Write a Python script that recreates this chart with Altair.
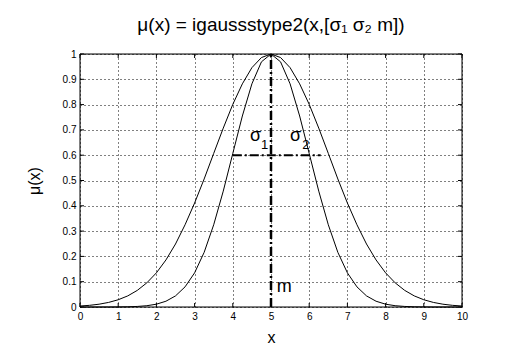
import altair as alt
import pandas as pd

xs = [i * 0.25 for i in range(41)]
inner = [0.0, 0.0, 0.0, 0.0, 0.0003, 0.0009, 0.0022, 0.0051, 0.0111, 0.0228,
         0.0439, 0.0796, 0.135, 0.216, 0.325, 0.458, 0.607, 0.755, 0.882, 0.969,
         1.0,
         0.969, 0.882, 0.755, 0.607, 0.458, 0.325, 0.216, 0.135, 0.0796, 0.0439,
         0.0228, 0.0111, 0.0051, 0.0022, 0.0009, 0.0003, 0.0, 0.0, 0.0, 0.0]
outer_half = [0.0039, 0.0066, 0.0111, 0.0181, 0.0286, 0.0439, 0.0657, 0.0956,
              0.135, 0.186, 0.249, 0.325, 0.411, 0.506, 0.607, 0.707, 0.801,
              0.882, 0.946, 0.986, 1.0]
outer = outer_half + outer_half[-2::-1]

x_ticks = [0, 1, 2, 3, 4, 5, 6, 7, 8, 9, 10]
y_ticks = [0, 0.1, 0.2, 0.3, 0.4, 0.5, 0.6, 0.7, 0.8, 0.9, 1.0]

# annotation elements
m_line_x = [5, 5]
m_line_y = [0, 1]
sigma_line_x = [4.0, 6.3]
sigma_line_y = [0.6, 0.6]
ann_text = ["σ", "σ", "m"]
ann_x = [4.45, 5.5, 5.15]
ann_y = [0.655, 0.655, 0.06]
sub_text = ["1", "2"]
sub_x = [4.74, 5.82]
sub_y = [0.625, 0.625]

curves = pd.DataFrame({
    "x": xs * 2,
    "y": inner + outer,
    "s": ["inner"] * len(xs) + ["outer"] * len(xs),
})

FONT = "Liberation Sans"
xscale = alt.Scale(domain=[0, 10], nice=False, zero=False)
yscale = alt.Scale(domain=[0, 1], nice=False, zero=False)

xaxis = alt.Axis(values=x_ticks, title="x", grid=True, gridColor="black",
                 gridDash=[1, 3], gridOpacity=1, ticks=False, domain=False,
                 labelOverlap=False, labelFlush=False, labelBound=False,
                 labelFont=FONT, labelFontSize=10, labelColor="black",
                 labelPadding=4, titleFont=FONT, titleFontSize=16,
                 titleFontWeight="normal", titleColor="black", titlePadding=8)
yaxis = alt.Axis(values=y_ticks, title="μ(x)", grid=True, gridColor="black",
                 gridDash=[1, 3], gridOpacity=1, ticks=False, domain=False,
                 labelOverlap=False, labelFlush=False, labelBound=False,
                 format="~g", labelFont=FONT, labelFontSize=10,
                 labelColor="black", labelPadding=4, titleFont=FONT,
                 titleFontSize=16, titleFontWeight="normal",
                 titleColor="black", titlePadding=20)

X = alt.X("x:Q", scale=xscale, axis=xaxis)
Y = alt.Y("y:Q", scale=yscale, axis=yaxis)

base_lines = alt.Chart(curves).mark_line(color="black", strokeWidth=1).encode(
    x=X, y=Y, detail="s:N",
)

# inward tick marks on all four sides
xt = pd.DataFrame({"x": x_ticks})
yt = pd.DataFrame({"y": y_ticks})
tick_bottom = alt.Chart(xt).mark_rule(color="black").encode(
    x=X, y=alt.value(253), y2=alt.value(249))
tick_top = alt.Chart(xt).mark_rule(color="black").encode(
    x=X, y=alt.value(0), y2=alt.value(4))
tick_left = alt.Chart(yt).mark_rule(color="black").encode(
    y=Y, x=alt.value(0), x2=alt.value(4))
tick_right = alt.Chart(yt).mark_rule(color="black").encode(
    y=Y, x=alt.value(382), x2=alt.value(378))

frame = alt.Chart(pd.DataFrame({"a": [0]})).mark_rect(
    fill=None, stroke="black", strokeWidth=1).encode(
    x=alt.value(0), x2=alt.value(382), y=alt.value(0), y2=alt.value(253))

mline = alt.Chart(pd.DataFrame({"x": m_line_x, "y": m_line_y})).mark_line(
    color="black", strokeWidth=2.5, strokeDash=[9, 3, 2, 3]).encode(
    x=X, y=Y)
sline = alt.Chart(pd.DataFrame({"x": sigma_line_x, "y": sigma_line_y})).mark_line(
    color="black", strokeWidth=2, strokeDash=[9, 3, 2, 3]).encode(
    x=X, y=Y)

ann = alt.Chart(pd.DataFrame({"t": ann_text, "x": ann_x, "y": ann_y})).mark_text(
    font=FONT, fontSize=18, color="black", align="left", baseline="alphabetic").encode(
    x=X, y=Y, text="t:N")
subs = alt.Chart(pd.DataFrame({"t": sub_text, "x": sub_x, "y": sub_y})).mark_text(
    font=FONT, fontSize=13, color="black", align="left", baseline="alphabetic").encode(
    x=X, y=Y, text="t:N")

chart = alt.layer(
    base_lines, tick_bottom, tick_top, tick_left, tick_right, frame,
    mline, sline, ann, subs,
).properties(
    width=382, height=253,
    title=alt.TitleParams("μ(x) = igaussstype2(x,[σ₁ σ₂ m])", font=FONT,
                          fontSize=19, fontWeight="normal", color="black",
                          anchor="middle", offset=14),
    autosize=alt.AutoSizeParams(type="none"),
    padding={"left": 72, "top": 46, "right": 38, "bottom": 48},
).configure_view(stroke=None).configure(background="white").configure_axis(
    labelOverlap=False)

chart.save("out.html", embed_options={"renderer": "svg", "actions": False})
